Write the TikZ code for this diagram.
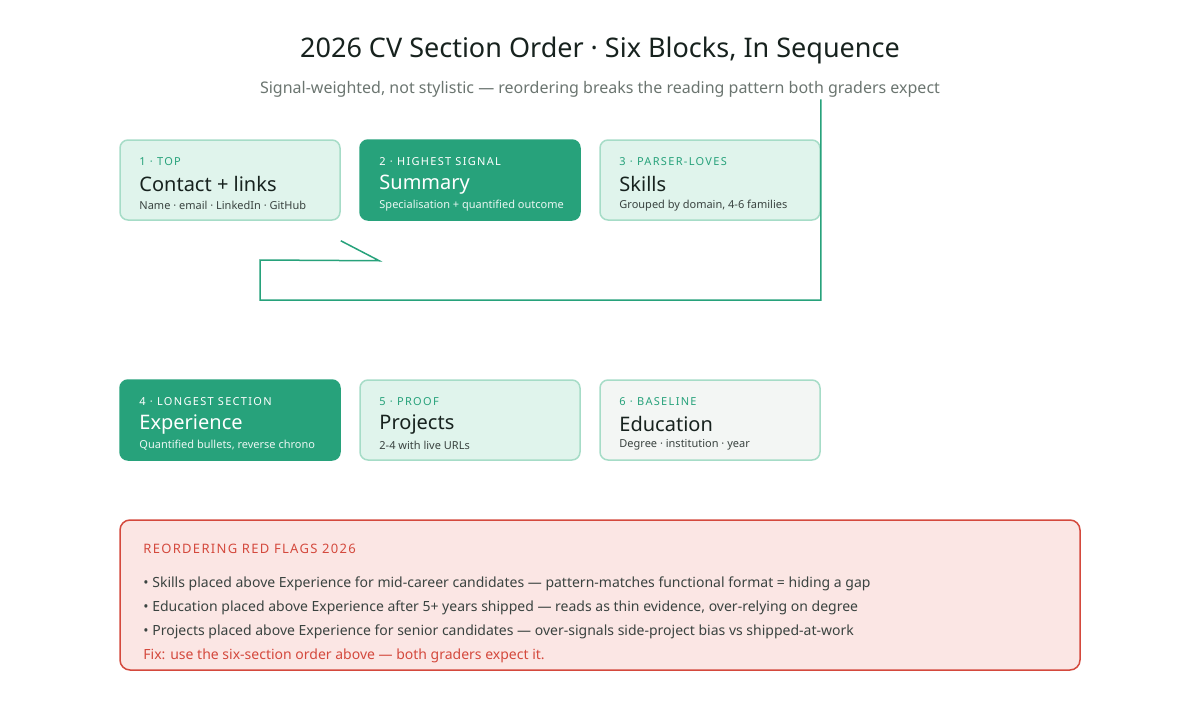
\documentclass[tikz,border=0pt]{standalone}
\usepackage{fontspec}
\setmainfont{Noto Sans}
\usetikzlibrary{positioning,calc}
\definecolor{deepgreen}{HTML}{27A27B}
\definecolor{palegreen}{HTML}{E0F4EC}
\definecolor{mintline}{HTML}{A6DCC7}
\definecolor{palegray}{HTML}{F3F6F4}
\definecolor{inkdark}{HTML}{17221E}
\definecolor{subgray}{HTML}{6B7570}
\definecolor{flagred}{HTML}{D4493D}
\definecolor{flagfill}{HTML}{FBE6E4}
\tikzset{
  block/.style={draw=mintline,fill=palegreen,line width=1.5pt,rounded corners=8pt,
    minimum width=220pt,minimum height=80pt,inner sep=0pt},
  hot/.style={block,draw=deepgreen,fill=deepgreen},
  base/.style={block,fill=palegray},
  tag/.style={anchor=west,inner sep=0pt,text=deepgreen,font=\addfontfeatures{LetterSpace=12}\fontsize{11}{13}\bfseries},
  head/.style={anchor=west,inner sep=0pt,text=inkdark,font=\fontsize{20}{24}\bfseries},
  note/.style={anchor=west,inner sep=0pt,text=inkdark!85,font=\fontsize{11}{13}\selectfont},
  link/.style={deepgreen,line width=1.5pt}
}
\newcommand{\cvblock}[6]{%
  \node[#2] (#1) at (#3) {};
  \node[tag,#6] (#1tag) at ($(#1.north west)+(20,22)$) {#4};
  \node[head,#6] (#1head) at ($(#1.north west)+(20,45)$) {#5};
}
\begin{document}
\begin{tikzpicture}[x=1pt,y=-1pt]
\useasboundingbox (0,0) rectangle (1200,720);

\node[font=\fontsize{27}{32}\bfseries,text=inkdark] (title) at (600,50) {2026 CV Section Order · Six Blocks, In Sequence};
\node[font=\fontsize{16}{19}\selectfont,text=subgray] (subtitle) at (600,89) {Signal-weighted, not stylistic — reordering breaks the reading pattern both graders expect};

% top row
\cvblock{contact}{block}{230,180}{1 · TOP}{Contact + links}{}
\node[note] (contactnote) at ($(contact.north west)+(20,66)$) {Name · email · LinkedIn · GitHub};
\cvblock{summary}{hot}{470,180}{2 · HIGHEST SIGNAL}{Summary}{text=white}
\node[note,text=white!90!deepgreen] (summarynote) at ($(summary.north west)+(20,66)$) {Specialisation + quantified outcome};
\cvblock{skills}{block}{710,180}{3 · PARSER-LOVES}{Skills}{}
\node[note] (skillsnote) at ($(skills.north west)+(20,66)$) {Grouped by domain, 4-6 families};

% bottom row
\cvblock{experience}{hot}{230,420}{4 · LONGEST SECTION}{Experience}{text=white}
\node[note,text=white!90!deepgreen] (experiencenote) at ($(experience.north west)+(20,66)$) {Quantified bullets, reverse chrono};
\cvblock{projects}{block}{470,420}{5 · PROOF}{Projects}{}
\node[note] (projectsnote) at ($(projects.north west)+(20,66)$) {2-4 with live URLs};
\cvblock{education}{base}{710,420}{6 · BASELINE}{Education}{}
\node[note] (educationnote) at ($(education.north west)+(20,66)$) {Degree · institution · year};

% connector
\coordinate (bendA) at ($(contact.south east)+(0,20)$);
\coordinate (bendB) at ($(summary.south west)+(20,40)$);
\coordinate (bendC) at ($(skills.north east)+(0,-40)$);
\draw[link] (bendA) -- (bendB) -- (260,260) -- (260,300) -- (bendC |- 0,300) -- (bendC);

% red flags
\node[draw=flagred,fill=flagfill,line width=1.5pt,rounded corners=10pt,
  minimum width=960pt,minimum height=150pt] (flags) at (600,595) {};
\node[anchor=west,inner sep=0pt,text=flagred,font=\addfontfeatures{LetterSpace=10}\fontsize{13}{15}\bfseries] (flagstitle) at ($(flags.north west)+(24,30)$) {REORDERING RED FLAGS 2026};
\node[note,font=\fontsize{14}{17}\selectfont] (flagone) at ($(flags.north west)+(24,65)$) {• Skills placed above Experience for mid-career candidates — pattern-matches functional format = hiding a gap};
\node[note,font=\fontsize{14}{17}\selectfont] (flagtwo) at ($(flags.north west)+(24,89)$) {• Education placed above Experience after 5+ years shipped — reads as thin evidence, over-relying on degree};
\node[note,font=\fontsize{14}{17}\selectfont] (flagthree) at ($(flags.north west)+(24,113)$) {• Projects placed above Experience for senior candidates — over-signals side-project bias vs shipped-at-work};
\node[anchor=west,inner sep=0pt,text=flagred,font=\fontsize{14}{17}\bfseries] (flagfix) at ($(flags.north west)+(24,137)$) {Fix: use the six-section order above — both graders expect it.};
\end{tikzpicture}
\end{document}
